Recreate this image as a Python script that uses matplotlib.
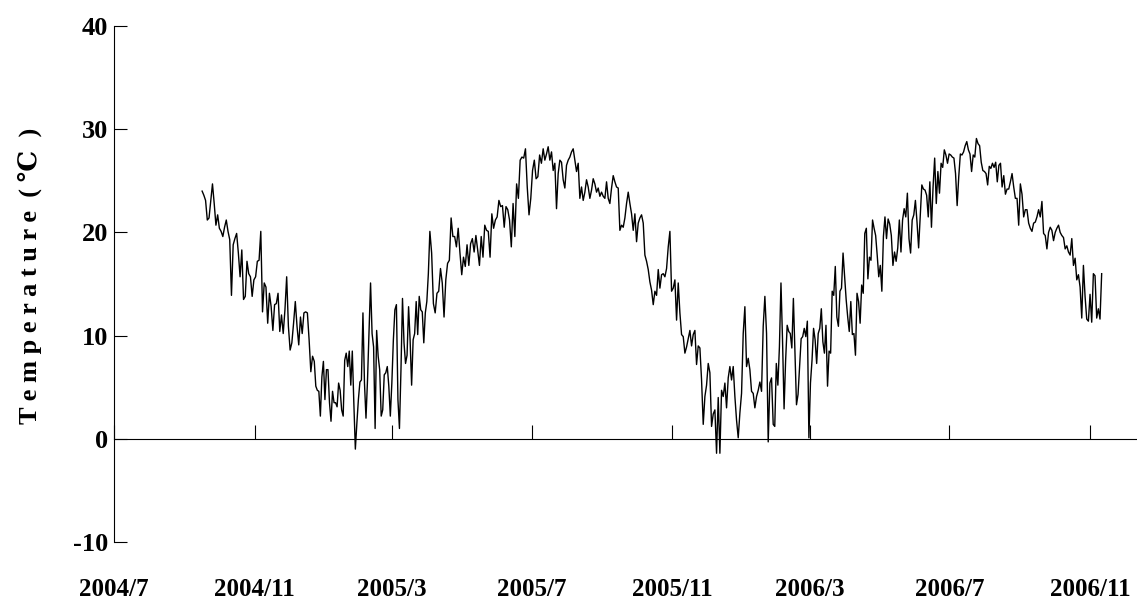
import numpy as np
import matplotlib.pyplot as plt
import matplotlib.dates as mdates

# daily-ish air temperature in 8 chunks
temps_1 = [24.0, 23.6, 23.1, 21.2, 21.4, 23.1, 24.7, 22.8, 20.7, 21.7,
           20.4, 20.1, 19.6, 20.5, 21.2, 20.1, 19.3, 13.9, 18.8, 19.4,
           19.9, 18.0, 15.7, 18.3, 13.5, 13.8, 17.2, 16.0, 15.7, 13.8,
           15.4, 15.7, 17.2, 17.3, 20.1, 12.3, 15.1, 14.7, 11.2, 14.1,
           12.8, 10.5, 13.0, 13.1, 14.1, 10.4, 12.0, 10.2, 12.5, 15.7,
           10.9, 8.6, 9.3, 11.2, 13.3, 10.9, 9.1, 11.8, 10.2, 12.2,
           12.3, 12.2, 9.6, 6.5, 8.0]
temps_2 = [7.5, 5.1, 4.7, 4.6, 2.2, 6.0, 7.5, 3.8, 6.7, 6.7,
           3.5, 1.7, 4.6, 3.5, 3.5, 3.1, 5.4, 4.7, 2.8, 2.2,
           7.6, 8.3, 7.0, 8.5, 5.2, 8.5, 3.5, -1.0, 1.5, 3.8,
           5.5, 5.7, 12.2, 5.4, 2.0, 5.7, 10.5, 15.1, 10.2, 8.9,
           1.0, 10.5, 8.0, 6.7, 2.2, 2.8, 6.2, 6.4, 7.0, 5.1,
           2.2, 5.4, 9.6, 12.5, 13.0, 3.8, 1.0, 6.7, 13.6, 9.3,
           7.3, 8.1, 12.8, 9.6, 5.2, 9.6, 10.2, 13.3, 10.1, 13.8,
           12.5, 12.3, 9.3, 12.2, 13.3, 16.0]
temps_3 = [20.1, 18.0, 13.1, 12.2, 14.1, 14.3, 16.5, 15.1, 11.8, 15.4,
           17.0, 17.3, 21.4, 19.6, 19.6, 18.6, 20.4, 18.0, 15.9, 17.6,
           16.7, 18.8, 16.8, 18.9, 19.4, 18.1, 19.7, 18.3, 16.8, 19.6,
           17.6, 20.7, 20.2, 20.1, 17.6, 21.8, 20.4, 21.2, 21.5, 23.1,
           22.5, 22.6, 20.5, 22.5, 22.2, 21.2, 18.6, 22.8, 19.6, 24.7,
           23.3, 27.0, 27.3, 27.2, 28.1, 24.4, 21.7, 23.3, 26.0, 27.0,
           25.2, 25.4, 27.5, 26.7]
temps_4 = [28.1, 27.0, 27.6, 28.3, 27.0, 27.8, 26.0, 26.7, 22.3, 25.7,
           27.0, 26.8, 25.1, 24.3, 26.5, 27.0, 27.3, 27.8, 28.1, 27.0,
           25.9, 26.7, 23.3, 24.4, 23.1, 23.9, 25.1, 24.4, 23.3, 24.1,
           25.2, 24.7, 23.9, 24.3, 23.5, 23.9, 23.5, 23.3, 24.9, 23.3,
           22.8, 24.3, 25.5, 24.9, 24.4, 24.3, 20.2, 20.7, 20.5, 21.4,
           22.8, 23.9, 22.8, 21.8, 20.2, 21.8, 19.1, 20.9, 21.4, 21.7,
           20.9, 17.8, 17.2, 16.4, 15.2, 14.4, 13.0, 14.3, 13.9, 16.4]
temps_5 = [14.6, 15.9, 16.0, 15.7, 16.5, 18.6, 20.1, 14.3, 14.6, 15.4,
           11.5, 15.1, 12.2, 10.1, 9.9, 8.3, 8.9, 9.7, 10.5, 9.0,
           10.1, 10.5, 7.2, 9.0, 8.8, 5.7, 1.4, 4.1, 5.2, 7.3,
           6.4, 1.2, 2.4, 2.8, -1.4, 4.0, -1.4, 4.7, 4.1, 5.4,
           3.0, 5.9, 7.0, 5.7, 7.0, 4.1, 1.8, 0.1, 2.5, 4.4,
           10.2, 12.8, 7.0, 7.8, 6.7, 4.6, 4.4, 3.0, 4.1, 4.7,
           5.5, 4.6, 10.9, 13.8, 10.2, -0.3, 5.4, 5.9]
temps_6 = [1.4, 1.2, 7.3, 5.2, 8.9, 15.1, 9.6, 2.9, 7.6, 11.0,
           10.4, 10.2, 8.8, 13.6, 8.3, 3.3, 4.3, 7.0, 9.7, 9.9,
           10.7, 9.9, 11.4, 0.1, 5.4, 7.6, 10.7, 9.6, 7.3, 10.2,
           10.7, 12.6, 9.4, 8.3, 11.0, 5.1, 8.5, 8.3, 14.3, 13.9,
           16.7, 11.8, 10.9, 14.3, 14.6, 18.0, 15.7, 13.5, 11.8, 10.4,
           13.3, 10.1, 10.2, 8.1, 14.1, 13.3, 11.2, 14.9, 14.1, 19.9,
           20.4, 15.5, 17.6, 17.3, 21.2, 20.4, 19.7, 17.8, 15.7, 16.8,
           14.3, 19.6, 21.5]
temps_7 = [19.4, 21.3, 20.8, 19.7, 16.8, 18.1, 17.2, 18.5, 21.2, 18.1,
           21.2, 22.3, 21.5, 23.8, 19.4, 18.0, 21.2, 21.7, 23.1, 21.0,
           18.5, 21.5, 24.6, 24.2, 24.1, 23.6, 21.5, 24.9, 20.5, 24.4,
           27.2, 22.8, 25.9, 23.8, 26.7, 26.3, 28.0, 27.5, 26.7, 27.6,
           27.5, 27.3, 27.2, 25.7, 22.6, 25.4, 27.6, 27.5, 27.8, 28.4,
           28.8, 28.0, 27.6, 25.9, 27.5, 27.3, 29.1, 28.6, 28.4, 26.8,
           26.0, 25.9, 25.7, 24.6, 26.4, 26.2, 26.7, 26.3, 26.8, 24.9,
           26.5, 26.7]
temps_8 = [24.4, 25.5, 23.7, 24.2, 24.2, 24.9, 25.7, 24.4, 23.3, 23.3,
           20.7, 24.7, 23.7, 21.5, 22.2, 22.2, 20.9, 20.4, 20.1, 20.9,
           21.0, 21.5, 22.2, 21.5, 23.0, 19.9, 19.7, 18.4, 20.0, 20.5,
           20.2, 19.2, 20.0, 20.4, 20.7, 20.0, 19.7, 19.5, 18.4, 18.7,
           18.1, 17.8, 19.4, 16.8, 17.5, 15.4, 15.9, 14.7, 11.7, 16.8,
           13.8, 11.6, 11.4, 14.0, 11.3, 16.0, 15.8, 11.7, 12.6, 11.6,
           16.0]

# first day of each chunk, plus the last observation day
seg_starts = ['2004-09-16', '2004-12-23', '2005-04-03', '2005-07-11',
              '2005-10-21', '2006-01-28', '2006-05-07', '2006-08-16']
last_day = '2006-11-11'

tick_dates = ['2004-07-01', '2004-11-01', '2005-03-01', '2005-07-01',
              '2005-11-01', '2006-03-01', '2006-07-01', '2006-11-01']
tick_labels = ['2004/7', '2004/11', '2005/3', '2005/7',
               '2005/11', '2006/3', '2006/7', '2006/11']

segments = [temps_1, temps_2, temps_3, temps_4, temps_5, temps_6, temps_7, temps_8]
bounds = mdates.datestr2num(seg_starts + [last_day])
days = []
temps = []
for i, seg in enumerate(segments):
    last = i == len(segments) - 1
    days.extend(np.linspace(bounds[i], bounds[i + 1], len(seg), endpoint=last))
    temps.extend(seg)

font = ['Liberation Serif', 'DejaVu Serif', 'DejaVu Sans']
plt.rcParams['font.family'] = font
plt.rcParams['font.weight'] = 'bold'
plt.rcParams['axes.unicode_minus'] = False

fig = plt.figure(figsize=(11.37, 6.14), dpi=100)
ax = fig.add_axes([114 / 1137, 1 - 542 / 614, 1022 / 1137, 516 / 614])

ax.plot(days, temps, color='black', lw=1.0)

ax.set_ylim(-10, 40)
ax.set_yticks(np.arange(-10, 41, 10))
ax.set_xlim(mdates.datestr2num('2004-07-01'), mdates.datestr2num('2006-12-11'))
ax.set_xticks(mdates.datestr2num(tick_dates))
ax.set_xticklabels(tick_labels)

ax.spines['top'].set_visible(False)
ax.spines['right'].set_visible(False)
ax.spines['bottom'].set_position(('data', 0))
ax.spines['left'].set_linewidth(0.8)
ax.spines['bottom'].set_linewidth(0.8)

ax.tick_params(axis='x', direction='in', length=10, width=0.8, pad=100, labelsize=18)
ax.tick_params(axis='y', direction='in', length=9, width=0.8, pad=4, labelsize=19)
for lab in ax.get_xticklabels() + ax.get_yticklabels():
    lab.set_fontweight('bold')

fig.text(30 / 1137, 1 - 276 / 614, 'T e m p e r a t u r e  ( \u2103  )',
         rotation=90, ha='center', va='center', fontsize=19, fontweight='bold')

fig.savefig('out.png', dpi=100)
